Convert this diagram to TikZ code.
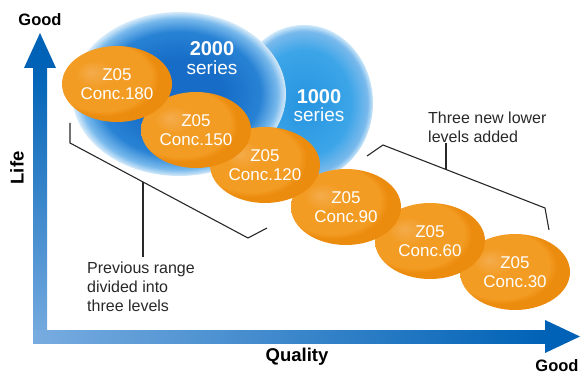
\documentclass[tikz,border=0pt]{standalone}
\usepackage{fontspec}
\setmainfont{Liberation Sans}
\usetikzlibrary{shapes.geometric}
\definecolor{axdark}{RGB}{0,98,182}
\definecolor{axlight}{RGB}{120,172,224}
\definecolor{orhi}{RGB}{244,172,76}
\definecolor{orin}{RGB}{243,156,36}
\definecolor{orout}{RGB}{236,140,14}
\definecolor{bcore}{RGB}{22,108,198}
\definecolor{bmid}{RGB}{40,130,212}
\definecolor{brim}{RGB}{120,185,236}
\definecolor{bedge}{RGB}{215,235,250}
\definecolor{ccore}{RGB}{38,148,224}
\definecolor{cmid}{RGB}{60,165,232}
\definecolor{cedge}{RGB}{205,232,250}
\definecolor{txtgray}{RGB}{40,40,40}
\pgfdeclareradialshading{orbshade}{\pgfpoint{-12bp}{8bp}}{color(0bp)=(orhi); color(9bp)=(orin); color(22bp)=(orin); color(25bp)=(orout); color(50bp)=(orout)}
\pgfdeclareradialshading{twoshade}{\pgfpoint{0bp}{0bp}}{color(0bp)=(bcore); color(10bp)=(bcore); color(19bp)=(bmid); color(23bp)=(brim); color(25bp)=(bedge); color(50bp)=(white)}
\pgfdeclareradialshading{oneshade}{\pgfpoint{0bp}{0bp}}{color(0bp)=(ccore); color(17bp)=(cmid); color(23bp)=(brim); color(25bp)=(cedge); color(50bp)=(white)}
\begin{document}
\begin{tikzpicture}[x=1pt,y=-1pt,
  orb/.style={ellipse, minimum width=110pt, minimum height=76pt, inner sep=0pt,
    shading=orbshade, text=white, align=center,
    font=\fontsize{17}{18.5}\selectfont},
  bubble/.style={ellipse, inner sep=0pt},
  bubtext/.style={text=white, inner sep=0pt},
  axlbl/.style={font=\bfseries\fontsize{16.5}{18}\selectfont, text=black, inner sep=0pt},
  biglbl/.style={font=\bfseries\fontsize{18.5}{20}\selectfont, text=black, inner sep=0pt},
  lbl/.style={font=\fontsize{16}{19}\selectfont, text=txtgray, align=left, inner sep=0pt},
  brk/.style={draw=txtgray, line width=1.1pt}]
\useasboundingbox (0,0) rectangle (581,374);
% axes
\shade[bottom color=axlight, top color=axdark] (33,343) rectangle (47,66);
\shade[left color=axlight, right color=axdark] (33,330) rectangle (547,343);
\fill[axdark] (24,68) -- (40,33) -- (56,68) -- cycle;
\fill[axdark] (545,320) -- (580,336.5) -- (545,353) -- cycle;
\node[axlbl] (goodY) at (40,20) {Good};
\node[axlbl] (goodX) at (557,366) {Good};
\node[biglbl, rotate=90] (life) at (17,168) {Life};
\node[biglbl] (qual) at (297,357) {Quality};
% series bubbles
\node[bubble, minimum width=138pt, minimum height=156pt, shading=oneshade] (s1000) at (304,103) {};
\node[bubble, minimum width=214pt, minimum height=164pt, shading=twoshade] (s2000) at (179,94) {};
\node[bubtext, font=\bfseries\fontsize{20}{20}\selectfont] (t2000a) at (212,49) {2000};
\node[bubtext, font=\fontsize{19}{19}\selectfont] (t2000b) at (212,68) {series};
\node[bubtext, font=\bfseries\fontsize{20}{20}\selectfont] (t1000a) at (319,97) {1000};
\node[bubtext, font=\fontsize{19}{19}\selectfont] (t1000b) at (319,115) {series};
% brackets
\draw[brk] (70,123) -- (70,143) -- (248,238) -- (267,228);
\draw[brk] (367,156) -- (383,145) -- (545,208) -- (549,230);
\coordinate (lp) at (143,182);
\coordinate (rp) at (446,169.5);
\node[lbl, anchor=north west] (prev) at (87,262) {Previous range\\divided into\\three levels};
\node[lbl, anchor=south west] (three) at (428,143) {Three new lower\\levels added};
\draw[brk, shorten >=5pt] (lp) -- (lp |- prev.north);
\draw[brk] (rp) -- (rp |- three.south);
% concentrations (lower ones first, so upper ones lie on top)
\node[orb] (c30) at (515,272) {Z05\\Conc.30};
\node[orb] (c60) at (430,241) {Z05\\Conc.60};
\node[orb] (c90) at (346,207) {Z05\\Conc.90};
\node[orb] (c120) at (265,165) {Z05\\Conc.120};
\node[orb] (c150) at (196,130) {Z05\\Conc.150};
\node[orb] (c180) at (117,84) {Z05\\Conc.180};
\end{tikzpicture}
\end{document}
